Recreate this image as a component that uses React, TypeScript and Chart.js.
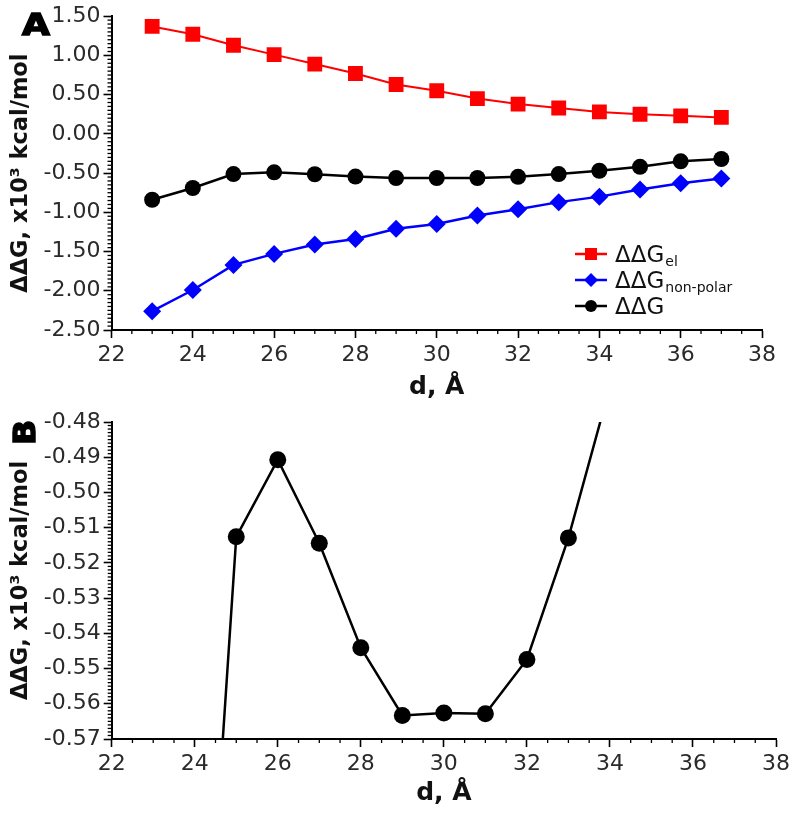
import React, { useEffect, useRef } from "react";
import { Chart, registerables } from "chart.js";

Chart.register(...registerables);

// ---------- data ----------
const distances = [23, 24, 25, 26, 27, 28, 29, 30, 31, 32, 33, 34, 35, 36, 37];
const dGel = [1.37, 1.27, 1.13, 1.01, 0.89, 0.77, 0.63, 0.55, 0.45, 0.38, 0.33, 0.28, 0.25, 0.23, 0.21];
const dGnonPolar = [-2.26, -1.99, -1.67, -1.53, -1.41, -1.34, -1.21, -1.15, -1.04, -0.96, -0.87, -0.8, -0.71, -0.63, -0.57];
const dGtotal = [-0.84, -0.69, -0.5126, -0.4907, -0.5144, -0.5441, -0.5633, -0.5626, -0.5628, -0.5474, -0.5129, -0.47, -0.42, -0.35, -0.32];

const xRange = [22, 38];
const xStep = 2;
const yRangeA = [-2.5, 1.5];
const yStepA = 0.5;
const yRangeB = [-0.57, -0.48];
const yStepB = 0.01;

const legendLabels = [
  { main: "ΔΔG", sub: "el", color: "#ff0000", style: "rect" },
  { main: "ΔΔG", sub: "non-polar", color: "#0000ff", style: "rectRot" },
  { main: "ΔΔG", sub: "", color: "#000000", style: "circle" },
];

const yTitle = "ΔΔG, x10³ kcal/mol";
const xTitle = "d, Å";

const FONT = '"DejaVu Sans", "Liberation Sans", Arial, sans-serif';

const pts = (ys: number[]) => distances.map((d, i) => ({ x: d, y: ys[i] }));

// ---------- plugins ----------
function drawMarker(ctx: CanvasRenderingContext2D, style: string, x: number, y: number, r: number) {
  ctx.beginPath();
  if (style === "rect") {
    ctx.rect(x - r, y - r, 2 * r, 2 * r);
  } else if (style === "rectRot") {
    ctx.moveTo(x, y - r);
    ctx.lineTo(x + r, y);
    ctx.lineTo(x, y + r);
    ctx.lineTo(x - r, y);
    ctx.closePath();
  } else {
    ctx.arc(x, y, r, 0, Math.PI * 2);
  }
  ctx.fill();
}

const minorTicksPlugin = {
  id: "minorTicks",
  afterDraw(chart: any, _a: any, opts: any) {
    const { ctx, chartArea } = chart;
    const sx = chart.scales.x;
    const sy = chart.scales.y;
    ctx.save();
    ctx.strokeStyle = "#000";
    ctx.lineWidth = 1.3;
    const run = (scale: any, minor: number, major: number, horiz: boolean) => {
      const n = Math.round((scale.max - scale.min) / minor);
      for (let i = 0; i <= n; i++) {
        const v = scale.min + i * minor;
        const r = v / major;
        if (Math.abs(r - Math.round(r)) < 1e-6) continue;
        const p = scale.getPixelForValue(v);
        ctx.beginPath();
        if (horiz) {
          ctx.moveTo(p, chartArea.bottom);
          ctx.lineTo(p, chartArea.bottom + opts.len);
        } else {
          ctx.moveTo(chartArea.left, p);
          ctx.lineTo(chartArea.left - opts.len, p);
        }
        ctx.stroke();
      }
    };
    run(sx, opts.xMinor, opts.xMajor, true);
    run(sy, opts.yMinor, opts.yMajor, false);
    ctx.restore();
  },
};

const legendPlugin = {
  id: "subLegend",
  afterDraw(chart: any, _a: any, opts: any) {
    if (!opts || !opts.items) return;
    const { ctx } = chart;
    ctx.save();
    opts.items.forEach((it: any, i: number) => {
      const y = opts.top + i * opts.rowGap;
      ctx.strokeStyle = it.color;
      ctx.lineWidth = 2.5;
      ctx.beginPath();
      ctx.moveTo(opts.left, y);
      ctx.lineTo(opts.left + opts.lineLen, y);
      ctx.stroke();
      ctx.fillStyle = it.color;
      const mr = it.style === "rect" ? 6 : it.style === "rectRot" ? 7 : 6;
      drawMarker(ctx, it.style, opts.left + opts.lineLen / 2, y, mr);
      ctx.fillStyle = "#111";
      ctx.textAlign = "left";
      ctx.textBaseline = "alphabetic";
      ctx.font = `${opts.fontSize}px ${FONT}`;
      const tx = opts.left + opts.lineLen + opts.gap;
      const base = y + opts.fontSize * 0.33;
      ctx.fillText(it.main, tx, base);
      if (it.sub) {
        const w = ctx.measureText(it.main).width;
        ctx.font = `${opts.subSize}px ${FONT}`;
        ctx.fillText(it.sub, tx + w + 1, base + opts.subDrop);
      }
    });
    ctx.restore();
  },
};

const panelLabelPlugin = {
  id: "panelLabel",
  afterDraw(chart: any, _a: any, opts: any) {
    if (!opts || !opts.text) return;
    const { ctx } = chart;
    ctx.save();
    ctx.translate(opts.x, opts.y);
    if (opts.rotate) ctx.rotate(-Math.PI / 2);
    ctx.scale(opts.stretch, 1);
    ctx.font = `bold ${opts.size}px ${FONT}`;
    ctx.textAlign = "left";
    ctx.textBaseline = "alphabetic";
    ctx.fillStyle = "#000";
    ctx.strokeStyle = "#000";
    ctx.lineWidth = 1.5;
    ctx.fillText(opts.text, 0, 0);
    ctx.strokeText(opts.text, 0, 0);
    ctx.restore();
  },
};

// ---------- shared scale builders ----------
function xScale(height: number, titlePadBottom: number) {
  return {
    type: "linear",
    min: xRange[0],
    max: xRange[1],
    ticks: {
      stepSize: xStep,
      color: "#2a2a2a",
      font: { family: FONT, size: 22 },
      padding: 4,
      maxRotation: 0,
      autoSkip: false,
    },
    grid: {
      drawOnChartArea: false,
      drawTicks: true,
      tickLength: 8,
      tickColor: "#000",
      tickWidth: 1.6,
      color: "#000",
    },
    border: { display: true, color: "#000", width: 2 },
    title: {
      display: true,
      text: xTitle,
      color: "#111",
      font: { family: FONT, size: 25, weight: "bold", lineHeight: 1 },
      padding: { top: 0, bottom: titlePadBottom },
    },
    afterFit: (s: any) => {
      s.height = height;
    },
  };
}

function yScale(range: number[], step: number, width: number) {
  return {
    type: "linear",
    min: range[0],
    max: range[1],
    ticks: {
      stepSize: step,
      color: "#2a2a2a",
      font: { family: FONT, size: 22 },
      padding: 3,
      autoSkip: false,
      callback: (v: any) => Number(v).toFixed(2),
    },
    grid: {
      drawOnChartArea: false,
      drawTicks: true,
      tickLength: 8,
      tickColor: "#000",
      tickWidth: 1.6,
      color: "#000",
    },
    border: { display: true, color: "#000", width: 2 },
    title: {
      display: true,
      text: yTitle,
      color: "#111",
      font: { family: FONT, size: 22.5, weight: "bold", lineHeight: 1 },
      padding: { top: 10, bottom: 0 },
    },
    afterFit: (s: any) => {
      s.width = width;
    },
  };
}

export default function App() {
  const refA = useRef<HTMLCanvasElement>(null);
  const refB = useRef<HTMLCanvasElement>(null);

  useEffect(() => {
    const chartA = new Chart(refA.current as HTMLCanvasElement, {
      type: "line",
      data: {
        datasets: [
          {
            label: "ΔΔG el",
            data: pts(dGel),
            borderColor: "#ff0000",
            backgroundColor: "#ff0000",
            borderWidth: 2,
            pointStyle: "rect",
            pointRadius: 10.5,
            pointBorderWidth: 0,
          },
          {
            label: "ΔΔG non-polar",
            data: pts(dGnonPolar),
            borderColor: "#0000ff",
            backgroundColor: "#0000ff",
            borderWidth: 2.5,
            pointStyle: "rectRot",
            pointRadius: 9,
            pointBorderWidth: 0,
          },
          {
            label: "ΔΔG",
            data: pts(dGtotal),
            borderColor: "#000000",
            backgroundColor: "#000000",
            borderWidth: 2.5,
            pointStyle: "circle",
            pointRadius: 8,
            pointBorderWidth: 0,
          },
        ],
      } as any,
      options: {
        animation: false,
        responsive: false,
        maintainAspectRatio: false,
        layout: { padding: { left: 0, right: 38, top: 15, bottom: 0 } },
        plugins: {
          legend: { display: false },
          tooltip: { enabled: false },
          minorTicks: { xMinor: 0.5, xMajor: 2, yMinor: 0.05, yMajor: 0.5, len: 4 },
          subLegend: {
            items: legendLabels,
            left: 575,
            top: 254,
            rowGap: 26,
            lineLen: 32,
            gap: 8,
            fontSize: 23,
            subSize: 14,
            subDrop: 4,
          },
          panelLabel: { text: "A", x: 22, y: 35, size: 30, stretch: 1.2, rotate: false },
        } as any,
        scales: {
          x: xScale(70, 0) as any,
          y: yScale(yRangeA, yStepA, 111.5) as any,
        },
      },
      plugins: [minorTicksPlugin, legendPlugin, panelLabelPlugin],
    });

    const chartB = new Chart(refB.current as HTMLCanvasElement, {
      type: "line",
      data: {
        datasets: [
          {
            label: "ΔΔG",
            data: pts(dGtotal),
            borderColor: "#000000",
            backgroundColor: "#000000",
            borderWidth: 2.5,
            pointStyle: "circle",
            pointRadius: 8.5,
            pointBorderWidth: 0,
          },
        ],
      } as any,
      options: {
        animation: false,
        responsive: false,
        maintainAspectRatio: false,
        layout: { padding: { left: 0, right: 24, top: 22, bottom: 0 } },
        plugins: {
          legend: { display: false },
          tooltip: { enabled: false },
          minorTicks: { xMinor: 0.5, xMajor: 2, yMinor: 0.001, yMajor: 0.01, len: 4 },
          panelLabel: { text: "B", x: 35, y: 45, size: 30, stretch: 1.1, rotate: true },
        } as any,
        scales: {
          x: xScale(82, 15) as any,
          y: yScale(yRangeB, yStepB, 111.7) as any,
        },
      },
      plugins: [minorTicksPlugin, panelLabelPlugin],
    });

    return () => {
      chartA.destroy();
      chartB.destroy();
    };
  }, []);

  return (
    <div style={{ position: "absolute", left: 0, top: 0, width: 800, height: 821, background: "#fff" }}>
      <canvas ref={refA} width={800} height={400} style={{ position: "absolute", left: 0, top: 0, width: 800, height: 400 }} />
      <canvas ref={refB} width={800} height={421} style={{ position: "absolute", left: 0, top: 400, width: 800, height: 421 }} />
    </div>
  );
}
